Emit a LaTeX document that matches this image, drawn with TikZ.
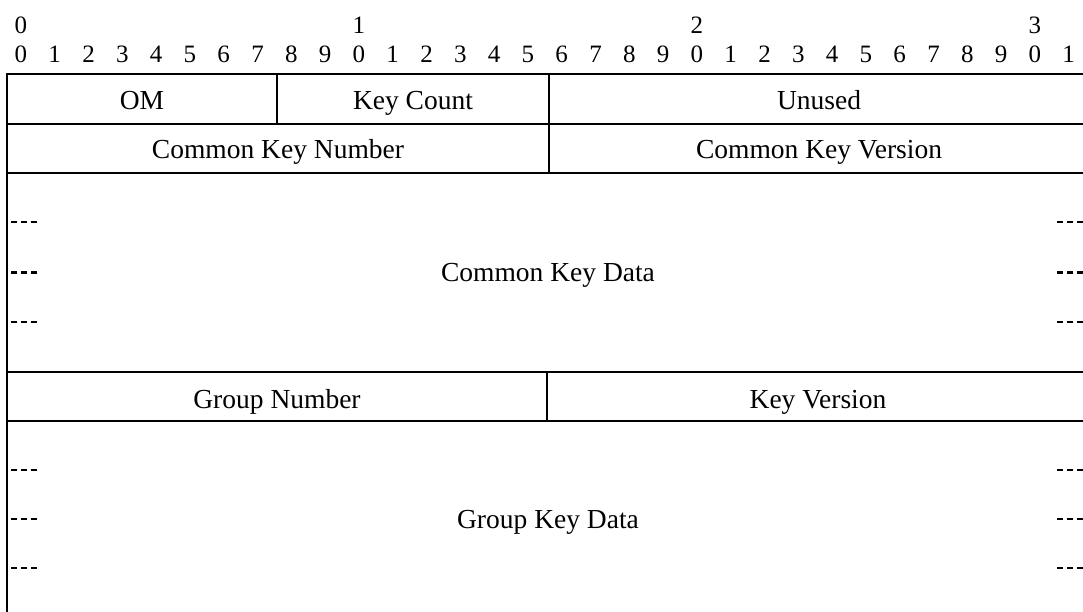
\documentclass[tikz,border=0pt]{standalone}
\usepackage{fontspec}
\setmainfont{Liberation Serif}
\usetikzlibrary{positioning}
\tikzstyle{field} = [inner sep=0pt, anchor=base, font=\fontsize{27.5}{33}\selectfont]
\tikzstyle{bitnum} = [inner sep=0pt, anchor=base, font=\fontsize{25}{30}\selectfont]
\tikzstyle{frame} = [line width=2.5pt]
\tikzstyle{more} = [line width=2pt, dash pattern=on 6pt off 4pt]

\begin{document}
\begin{tikzpicture}[x=1pt,y=-1pt]
  \useasboundingbox (0,0) rectangle (1083,612);
  \clip (0,0) rectangle (1083,612);

  % bit numbers
  \foreach \i in {0,...,31} {
    \pgfmathtruncatemacro{\d}{mod(\i,10)}
    \node[bitnum] (b\i) at ({4+(\i+0.5)*33.8},63) {\d};
  }
  \foreach \t in {0,1,2,3} {
    \pgfmathtruncatemacro{\j}{10*\t}
    \node[bitnum, anchor=south, above=12pt of b\j.north] (t\t) {\t};
  }

  % frame and field borders
  \draw[frame] (7,621) -- (7,74) -- (1089,74) -- (1089,621);
  \draw[frame] (7,124) -- (1089,124);
  \draw[frame] (7,173) -- (1089,173);
  \draw[frame] (7,372) -- (1089,372);
  \draw[frame] (7,421) -- (1089,421);
  \draw[frame] (277,74) -- (277,124);
  \draw[frame] (549,74) -- (549,173);
  \draw[frame] (547,372) -- (547,421);

  % fields
  \node[field] (om)       at (142,110) {OM};
  \node[field] (keycount) at (413,110) {Key Count};
  \node[field] (unused)   at (819,110) {Unused};
  \node[field] (cknum)    at (278,159) {Common Key Number};
  \node[field] (ckver)    at (819,159) {Common Key Version};
  \node[field] (ckdata)   at (548,281) {Common Key Data};
  \node[field] (grpnum)   at (277,408) {Group Number};
  \node[field] (keyver)   at (818,408) {Key Version};
  \node[field] (gkdata)   at (548,528) {Group Key Data};

  % continuation marks
  \foreach \y/\w in {222/2pt,272/3pt,322/2pt,470/2pt,519/2pt,568/2pt} {
    \draw[more, line width=\w] (11,\y) -- (39,\y);
    \draw[more, line width=\w] (1057,\y) -- (1085,\y);
  }
\end{tikzpicture}
\end{document}
